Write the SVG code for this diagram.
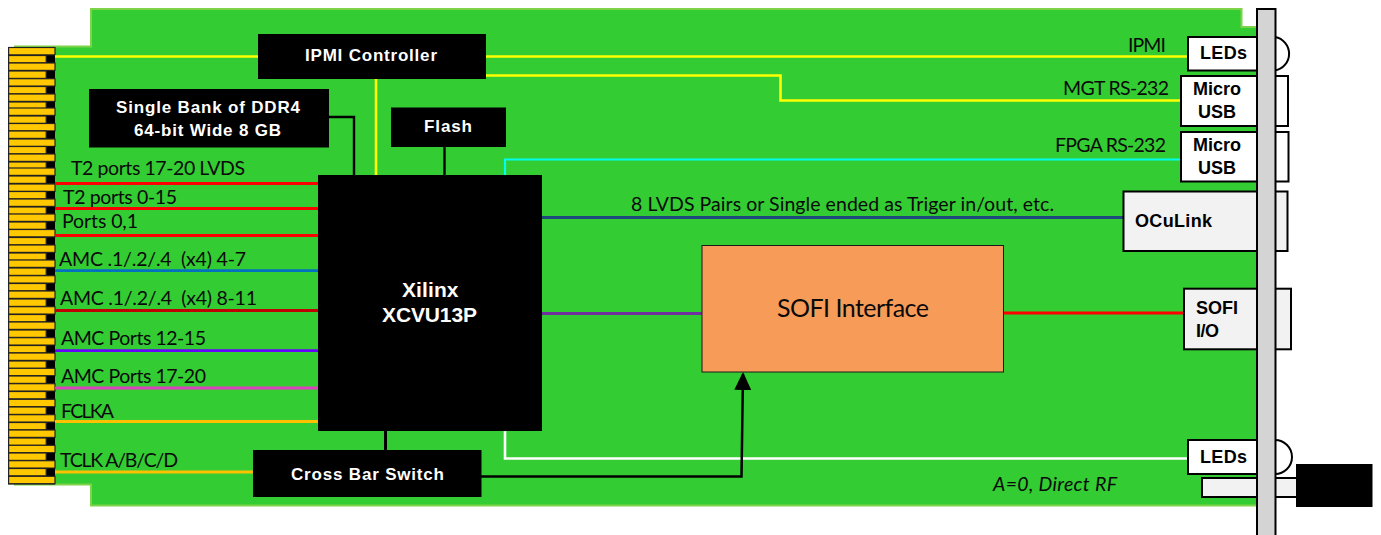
<svg xmlns="http://www.w3.org/2000/svg" xmlns:xlink="http://www.w3.org/1999/xlink" width="1381" height="535" viewBox="0 0 1381 535">
<style>
.l{font-family:Lato,"Open Sans",sans-serif;font-size:19.5px;fill:#0a0a0a}
.b{font-family:"Liberation Sans",Arial,sans-serif;font-weight:700;font-size:18px;fill:#000}
.w{fill:#fff;font-size:17px}
.k{fill:#000;stroke:none}
.c{fill:none;stroke-linejoin:miter}
.p{fill:#fff;stroke:#000;stroke-width:2}
.g{fill:#f2f2f2;stroke:#000;stroke-width:2}
.y{stroke:#ffff00;stroke-width:2.6}
.lo{fill:#ffc800;stroke:#222;stroke-width:1.2}
</style>
<defs>
<marker id="arrow" markerUnits="userSpaceOnUse" markerWidth="18" markerHeight="20" refX="16" refY="8.5" orient="auto"><path d="M0,0L18,8.5L0,17Z" fill="#000"/></marker>
<g id="long"><rect class="lo" x="8.6" y="0" width="46.4" height="7.4"/></g>
<g id="short"><rect x="46" y="0" width="9" height="7.4" fill="#000"/><rect class="lo" x="8.6" y="0" width="37.6" height="7.4"/></g>
</defs>
<path id="board-shape" d="M91,9H1241.5V27H1257V505.5H91V484.5H15V46.5H91Z" fill="#33cc33" stroke="#7ed348" stroke-width="2"/>
<g id="connector-fingers">
<rect x="8" y="47" width="47" height="437.500" fill="#222"/>
<use xlink:href="#long" y="47.500"/><use xlink:href="#short" y="55.500"/>
<use xlink:href="#long" y="63"/><use xlink:href="#short" y="71"/>
<use xlink:href="#long" y="78.700"/><use xlink:href="#short" y="86.500"/>
<use xlink:href="#long" y="94"/><use xlink:href="#short" y="102"/>
<use xlink:href="#long" y="108"/><use xlink:href="#short" y="116"/>
<use xlink:href="#long" y="123.500"/><use xlink:href="#short" y="131"/>
<use xlink:href="#long" y="139"/><use xlink:href="#short" y="146.500"/>
<use xlink:href="#long" y="154"/><use xlink:href="#short" y="162"/>
<use xlink:href="#long" y="168"/><use xlink:href="#short" y="176"/>
<use xlink:href="#long" y="184"/><use xlink:href="#short" y="191.500"/>
<use xlink:href="#long" y="199"/><use xlink:href="#short" y="207"/>
<use xlink:href="#long" y="214"/><use xlink:href="#short" y="222"/>
<use xlink:href="#long" y="229.500"/><use xlink:href="#short" y="237.500"/>
<use xlink:href="#long" y="245"/><use xlink:href="#short" y="253"/>
<use xlink:href="#long" y="260"/><use xlink:href="#short" y="268"/>
<use xlink:href="#long" y="275.700"/><use xlink:href="#short" y="283.500"/>
<use xlink:href="#long" y="291"/><use xlink:href="#short" y="299"/>
<use xlink:href="#long" y="306.700"/><use xlink:href="#short" y="314.500"/>
<use xlink:href="#long" y="322"/><use xlink:href="#short" y="330"/>
<use xlink:href="#long" y="337.700"/><use xlink:href="#short" y="345.500"/>
<use xlink:href="#long" y="353"/><use xlink:href="#short" y="361"/>
<use xlink:href="#long" y="368.300"/><use xlink:href="#short" y="376"/>
<use xlink:href="#long" y="383.700"/><use xlink:href="#short" y="391.500"/>
<use xlink:href="#long" y="399.300"/><use xlink:href="#short" y="407"/>
<use xlink:href="#long" y="414.700"/><use xlink:href="#short" y="422.500"/>
<use xlink:href="#long" y="430"/><use xlink:href="#short" y="438"/>
<use xlink:href="#long" y="445.300"/><use xlink:href="#short" y="453"/>
<use xlink:href="#long" y="460.700"/><use xlink:href="#short" y="468.500"/>
<use xlink:href="#long" y="476.300"/>
</g>
<g id="connectors" class="c">
<path class="y" d="M55,56.500H258"/>
<path class="y" d="M486,56.500H1188"/>
<path class="y" d="M486,75.500H780.500V100.500H1181"/>
<path class="y" d="M376,79V175"/>
<path stroke="#000" stroke-width="2.400" d="M329,117H354V175"/>
<path stroke="#000" stroke-width="2.400" d="M444.500,147V175"/>
<path stroke="#00ffee" stroke-width="2.200" d="M505,175V159.500H1181"/>
<path stroke="#1f497d" stroke-width="3" d="M542,217.500H1124"/>
<path stroke="#7030a0" stroke-width="3" d="M542,313.500H702"/>
<path stroke="#ff0000" stroke-width="3" d="M1003,313H1184"/>
<path stroke="#000" stroke-width="3" d="M385.500,431V450"/>
<path stroke="#fff" stroke-width="2.600" d="M505,431V458.500H1188"/>
<path stroke="#000" stroke-width="2.500" d="M481,476.500H741.500L743,374" marker-end="url(#arrow)"/>
<path stroke="#ff0000" stroke-width="2.800" d="M55,183.500H318M55,208.500H318M55,235.500H318"/>
<path stroke="#0070c0" stroke-width="2.800" d="M55,270.700H318"/>
<path stroke="#c00000" stroke-width="2.800" d="M55,310.500H318"/>
<path stroke="#6600ff" stroke-width="2.800" d="M55,350.700H318"/>
<path stroke="#e040c0" stroke-width="2.800" d="M55,388H318"/>
<path stroke="#ffc000" stroke-width="2.800" d="M55,421.500H318M55,472H254"/>
</g>
<g id="edge-labels">
<text class="l" x="71" y="174.500" textLength="174" lengthAdjust="spacing">T2 ports 17-20 LVDS</text>
<text class="l" x="63" y="203.500" textLength="114" lengthAdjust="spacing">T2 ports 0-15</text>
<text class="l" x="62" y="228" textLength="76" lengthAdjust="spacing">Ports 0,1</text>
<text class="l" x="59" y="265.500" textLength="187" lengthAdjust="spacing" xml:space="preserve">AMC .1/.2/.4  (x4) 4-7</text>
<text class="l" x="60" y="305" textLength="197" lengthAdjust="spacing" xml:space="preserve">AMC .1/.2/.4  (x4) 8-11</text>
<text class="l" x="61" y="345" textLength="145" lengthAdjust="spacing">AMC Ports 12-15</text>
<text class="l" x="61" y="383" textLength="145" lengthAdjust="spacing">AMC Ports 17-20</text>
<text class="l" x="61" y="418" textLength="53" lengthAdjust="spacing">FCLKA</text>
<text class="l" x="60" y="467" textLength="118" lengthAdjust="spacing">TCLK A/B/C/D</text>
<text class="l" x="1128" y="52" textLength="38" lengthAdjust="spacing">IPMI</text>
<text class="l" x="1063" y="95" textLength="106" lengthAdjust="spacing">MGT RS-232</text>
<text class="l" x="1055" y="152" textLength="111" lengthAdjust="spacing">FPGA RS-232</text>
<text class="l" x="631" y="211" textLength="423" lengthAdjust="spacing">8 LVDS Pairs or Single ended as Triger in/out, etc.</text>
<text class="l" x="993" y="490.500" textLength="124" lengthAdjust="spacing" font-style="italic">A=0, Direct RF</text>
</g>
<g id="ipmi-controller"><rect class="k" x="258" y="34" width="228" height="45"/><text class="b w" x="305" y="60.500" textLength="132" lengthAdjust="spacing">IPMI Controller</text></g>
<g id="ddr4"><rect class="k" x="89" y="89" width="240" height="58.500"/><text class="b w" x="116" y="112.500" textLength="184" lengthAdjust="spacing">Single Bank of DDR4</text><text class="b w" x="134" y="135.500" textLength="147" lengthAdjust="spacing">64-bit Wide 8 GB</text></g>
<g id="flash"><rect class="k" x="391" y="107.500" width="115" height="39.500"/><text class="b w" x="424" y="132" textLength="48" lengthAdjust="spacing">Flash</text></g>
<g id="xilinx"><rect class="k" x="318" y="175" width="224" height="256"/><text class="b w" style="font-size:21px" x="402" y="296.500" textLength="56.500" lengthAdjust="spacing">Xilinx</text><text class="b w" style="font-size:21px" x="382" y="321.500" textLength="95" lengthAdjust="spacing">XCVU13P</text></g>
<g id="cross-bar-switch"><rect class="k" x="253" y="450" width="228.500" height="47"/><text class="b w" x="291" y="479.500" textLength="153" lengthAdjust="spacing">Cross Bar Switch</text></g>
<g id="sofi-interface"><rect x="702" y="245.500" width="301.500" height="126.500" fill="#f79b58" stroke="#1a1a1a" stroke-width="1"/><text class="l" style="font-size:25px" x="777" y="317" textLength="152" lengthAdjust="spacing">SOFI Interface</text></g>
<g id="led-top"><path d="M1275,37A17,17 0 0 1 1275,70.500" fill="#fff" stroke="#000" stroke-width="2"/><rect class="p" x="1188" y="37" width="70" height="33.500"/><text class="b" x="1200" y="59" textLength="47" lengthAdjust="spacing">LEDs</text></g>
<g id="micro-usb-1"><rect class="p" x="1181" y="76" width="107" height="50"/><text class="b" x="1193" y="95" textLength="48" lengthAdjust="spacing">Micro</text><text class="b" x="1198" y="117.500" textLength="38" lengthAdjust="spacing">USB</text></g>
<g id="micro-usb-2"><rect class="p" x="1181" y="132" width="107.500" height="49.500"/><text class="b" x="1193" y="151" textLength="48" lengthAdjust="spacing">Micro</text><text class="b" x="1198" y="173.500" textLength="38" lengthAdjust="spacing">USB</text></g>
<g id="oculink"><rect class="g" x="1123.500" y="191.500" width="164" height="59.500"/><text class="b" x="1135" y="227" textLength="77" lengthAdjust="spacing">OCuLink</text></g>
<g id="sofi-io"><rect class="g" x="1184" y="288.700" width="107" height="60.600"/><text class="b" x="1196" y="314" textLength="42" lengthAdjust="spacing">SOFI</text><text class="b" x="1196" y="336.500" textLength="23" lengthAdjust="spacing">I/O</text></g>
<g id="led-bottom"><path d="M1275,440A17,17 0 0 1 1275,474" fill="#fff" stroke="#000" stroke-width="2"/><rect class="p" x="1188" y="440" width="70" height="34"/><text class="b" x="1200" y="463" textLength="47" lengthAdjust="spacing">LEDs</text></g>
<g id="rf-connector"><rect class="g" x="1202" y="478" width="96" height="19"/><rect class="k" x="1296" y="464" width="76.500" height="43"/></g>
<rect id="front-panel" x="1257" y="9" width="18.500" height="530" fill="#d4d4d4" stroke="#000" stroke-width="2"/>
</svg>
